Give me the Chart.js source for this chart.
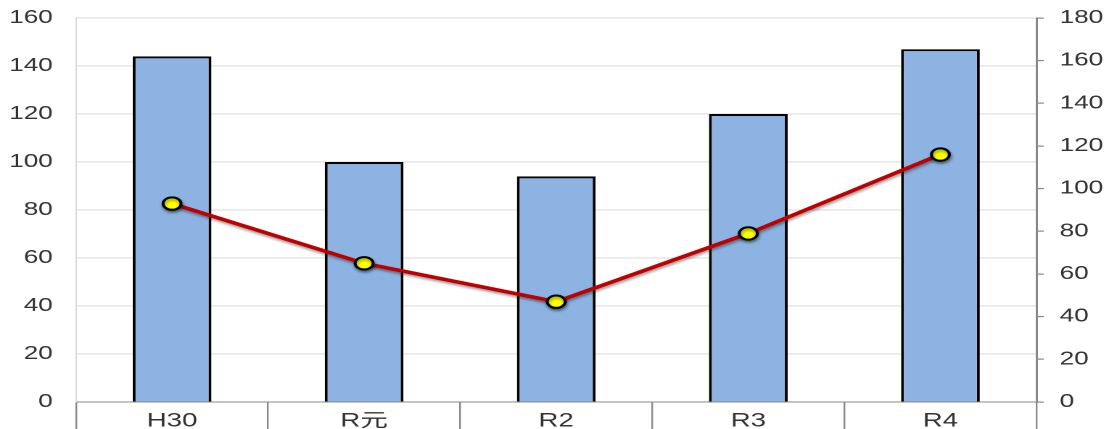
<!DOCTYPE html>
<html lang="ja">
<head>
    <meta charset="UTF-8">
    <title>H30〜R4</title>
    <script src="https://cdn.jsdelivr.net/npm/chart.js"></script>
    <style>
        html, body { margin: 0; padding: 0; background: #fff; overflow: hidden; }
        /* the reference is drawn wide, so the chart is stretched sideways */
        #wrap { width: 770px; height: 429px; transform: scaleX(1.4506); transform-origin: 0 0; }
    </style>
</head>
<body>
    <div id="wrap"><canvas id="chart" width="770" height="429"></canvas></div>

    <script>
        const categories = ['H30', 'R元', 'R2', 'R3', 'R4'];
        const barValues = [144, 100, 94, 120, 147];      // left axis
        const lineValues = [93, 65, 47, 79, 116];        // right axis
        const leftTicks = [0, 20, 40, 60, 80, 100, 120, 140, 160];
        const rightTicks = [0, 20, 40, 60, 80, 100, 120, 140, 160, 180];

        const fontFamily = '"Liberation Sans", Arial, "Noto Sans CJK JP", sans-serif';

        // soft shadow under the red line
        const lineShadow = {
            id: 'lineShadow',
            beforeDatasetDraw(chart, args) {
                if (chart.data.datasets[args.index].type !== 'line') return;
                const ctx = chart.ctx;
                ctx.save();
                ctx.shadowColor = 'rgba(0,0,0,0.4)';
                ctx.shadowBlur = 5;
                ctx.shadowOffsetX = 1;
                ctx.shadowOffsetY = 4;
            },
            afterDatasetDraw(chart, args) {
                if (chart.data.datasets[args.index].type !== 'line') return;
                chart.ctx.restore();
            }
        };

        new Chart(document.getElementById('chart'), {
            data: {
                labels: categories,
                datasets: [{
                    type: 'line',
                    data: lineValues,
                    yAxisID: 'y1',
                    order: 0,
                    borderColor: '#C00000',
                    borderWidth: 3.5,
                    pointRadius: 6.2,
                    pointBorderWidth: 2,
                    pointBackgroundColor: '#FFFF00',
                    pointBorderColor: '#000000',
                    tension: 0
                }, {
                    type: 'bar',
                    data: barValues,
                    yAxisID: 'y',
                    order: 1,
                    backgroundColor: '#8DB3E2',
                    borderColor: '#000000',
                    borderWidth: 2,
                    barPercentage: 0.41,
                    categoryPercentage: 1
                }]
            },
            options: {
                responsive: false,
                devicePixelRatio: 2,
                animation: false,
                layout: { padding: { top: 18, left: 0, right: 0, bottom: 0 } },
                plugins: { legend: { display: false }, tooltip: { enabled: false } },
                scales: {
                    x: {
                        offset: true,
                        border: { color: '#888888', width: 1 },
                        grid: { offset: true, drawOnChartArea: false, drawTicks: true, tickLength: 28, color: '#888888', lineWidth: 1.2 },
                        ticks: { color: '#333333', font: { family: fontFamily, size: 19 }, padding: -20, maxRotation: 0 },
                        afterFit(scale) { scale.height = 27; }
                    },
                    y: {
                        position: 'left',
                        min: 0, max: 160,
                        afterBuildTicks(scale) { scale.ticks = leftTicks.map(v => ({ value: v })); },
                        border: { color: '#D9D9D9', width: 1 },
                        // invisible tick marks keep the labels away from the axis
                        grid: { color: '#D9D9D9', lineWidth: 1, drawTicks: true, tickLength: 16, tickColor: 'rgba(0,0,0,0)' },
                        ticks: { color: '#333333', font: { family: fontFamily, size: 18 }, padding: 0 },
                        afterFit(scale) { scale.width = 52.4; }
                    },
                    y1: {
                        position: 'right',
                        min: 0, max: 180,
                        afterBuildTicks(scale) { scale.ticks = rightTicks.map(v => ({ value: v })); },
                        border: { color: '#888888', width: 1.5 },
                        // only the first 4px of each tick are drawn
                        grid: { drawOnChartArea: false, drawTicks: true, tickLength: 16, color: '#888888', lineWidth: 1.2, tickBorderDash: [4, 100] },
                        ticks: { color: '#333333', font: { family: fontFamily, size: 18 }, padding: 0 },
                        afterFit(scale) { scale.width = 55.5; }
                    }
                }
            },
            plugins: [lineShadow]
        });
    </script>
</body>
</html>
